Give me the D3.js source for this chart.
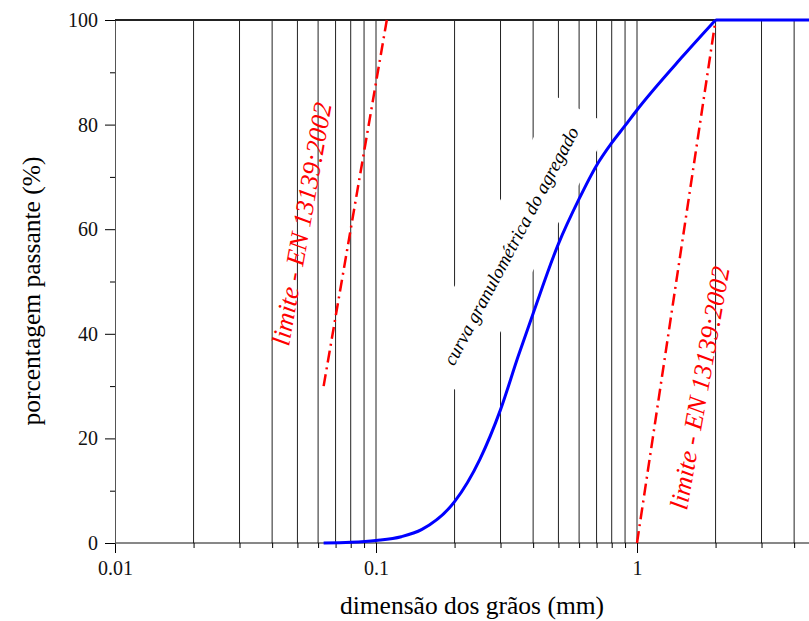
<!DOCTYPE html>
<html>
<head>
<meta charset="utf-8">
<script src="https://cdn.jsdelivr.net/npm/d3@7"></script>
<style>
  body { margin: 0; background: #fff; }
  svg { display: block; font-family: "Liberation Serif", "Times New Roman", serif; }
</style>
</head>
<body>
<div id="chart"></div>
<script>
// grain size curve (mm, % passing)
var sieveSize = [0.063, 0.08, 0.1, 0.125, 0.15, 0.2, 0.25, 0.3, 0.35, 0.4, 0.5, 0.6, 0.7, 0.8, 0.9, 1, 1.5, 2, 4, 10];
var passing   = [0, 0.15, 0.5, 1.2, 2.6, 7.9, 16, 25.5, 35.6, 43.9, 57.2, 65.8, 72.2, 76.5, 79.8, 82.8, 93.1, 100, 100, 100];

// EN 13139:2002 limits
var limitFineX = [0.063, 0.11];
var limitFineY = [30, 100];
var limitCoarseX = [1, 2];
var limitCoarseY = [0, 100];

var xMajor = [0.01, 0.1, 1];
var xLabels = ["0.01", "0.1", "1"];
var yMajor = [0, 20, 40, 60, 80, 100];
var yMinor = [10, 30, 50, 70, 90];

var width = 809, height = 621;
var margin = {left: 115, top: 20, right: 898, bottom: 543};

var svg = d3.select("#chart").append("svg")
    .attr("width", width)
    .attr("height", height);

var x = d3.scaleLog().domain([0.01, 10]).range([margin.left, margin.right]);
var y = d3.scaleLinear().domain([0, 100]).range([margin.bottom, margin.top]);

var xMinor = [];
[0.01, 0.1, 1].forEach(function(dec) {
    for (var k = 2; k <= 9; k++) xMinor.push(+(k * dec).toFixed(4));
});

// vertical grid
svg.append("g").selectAll("line")
    .data(xMinor.concat([0.1, 1]))
    .enter().append("line")
    .attr("x1", function(d) { return x(d); })
    .attr("x2", function(d) { return x(d); })
    .attr("y1", y(0))
    .attr("y2", y(100))
    .attr("stroke", "#222")
    .attr("stroke-width", 1);

// axes
var xAxis = svg.append("g").attr("transform", `translate(0, ${y(0)})`)
    .call(d3.axisBottom(x).tickValues(xMajor).tickSize(10).tickPadding(8)
        .tickFormat(function(d, i) { return xLabels[i]; }));
xAxis.select(".domain").attr("d", `M${margin.left},0H${width}`);
svg.append("g").attr("transform", `translate(0, ${y(0)})`)
    .call(d3.axisBottom(x).tickValues(xMinor).tickSize(5).tickFormat(""))
    .select(".domain").remove();

var yAxis = svg.append("g").attr("transform", `translate(${margin.left}, 0)`)
    .call(d3.axisLeft(y).tickValues(yMajor).tickSize(10).tickPadding(7));
svg.append("g").attr("transform", `translate(${margin.left}, 0)`)
    .call(d3.axisLeft(y).tickValues(yMinor).tickSize(5).tickFormat(""))
    .select(".domain").remove();

svg.selectAll(".tick text")
    .style("font-family", "'Liberation Serif', serif")
    .style("font-size", "20px")
    .attr("fill", "#111");
xAxis.select(".domain").attr("stroke", "#111");
yAxis.select(".domain").attr("stroke", "#555");

// top frame line
svg.append("line")
    .attr("x1", margin.left).attr("x2", width)
    .attr("y1", y(100)).attr("y2", y(100))
    .attr("stroke", "#222").attr("stroke-width", 2);

// label of the curve, on a white box
var curveLabel = svg.append("g")
    .attr("transform", "translate(511, 246) rotate(-62)");
curveLabel.append("rect")
    .attr("x", -153).attr("y", -31)
    .attr("width", 306).attr("height", 62)
    .attr("fill", "#fff");
curveLabel.append("text")
    .attr("text-anchor", "middle")
    .attr("dominant-baseline", "central")
    .style("font-style", "italic")
    .style("font-size", "19px")
    .attr("fill", "#000")
    .text("curva granulométrica do agregado");

// limit lines
var line = d3.line()
    .x(function(d) { return x(d[0]); })
    .y(function(d) { return y(d[1]); });

[[limitFineX, limitFineY], [limitCoarseX, limitCoarseY]].forEach(function(l) {
    svg.append("path")
        .datum(d3.zip(l[0], l[1]))
        .attr("d", line)
        .attr("fill", "none")
        .attr("stroke", "#ff0000")
        .attr("stroke-width", 2.5)
        .attr("stroke-dasharray", "12,5,2,5");
});

// grain size curve: smooth part up to 100 %, then flat along the top
var pts = d3.zip(sieveSize, passing);
var full = pts.findIndex(function(d) { return d[1] >= 100; });
var smooth = d3.line()
    .x(function(d) { return x(d[0]); })
    .y(function(d) { return y(d[1]); })
    .curve(d3.curveMonotoneX);

svg.append("path")
    .datum(pts.slice(0, full + 1))
    .attr("d", smooth)
    .attr("fill", "none")
    .attr("stroke", "#0000ff")
    .attr("stroke-width", 3);
svg.append("path")
    .datum(pts.slice(full))
    .attr("d", line)
    .attr("fill", "none")
    .attr("stroke", "#0000ff")
    .attr("stroke-width", 3);

// limit labels
[[302, 224], [700, 388]].forEach(function(p) {
    svg.append("text")
        .attr("transform", `translate(${p[0]}, ${p[1]}) rotate(-80)`)
        .attr("text-anchor", "middle")
        .attr("dominant-baseline", "central")
        .style("font-style", "italic")
        .style("font-size", "26px")
        .attr("fill", "#ff0000")
        .text("limite - EN 13139:2002");
});

// axis titles
svg.append("text")
    .attr("transform", "translate(40, 291) rotate(-90)")
    .attr("text-anchor", "middle")
    .style("font-size", "25.5px")
    .text("porcentagem passante (%)");

svg.append("text")
    .attr("x", 472).attr("y", 614)
    .attr("text-anchor", "middle")
    .style("font-size", "25.5px")
    .text("dimensão dos grãos (mm)");
</script>
</body>
</html>
